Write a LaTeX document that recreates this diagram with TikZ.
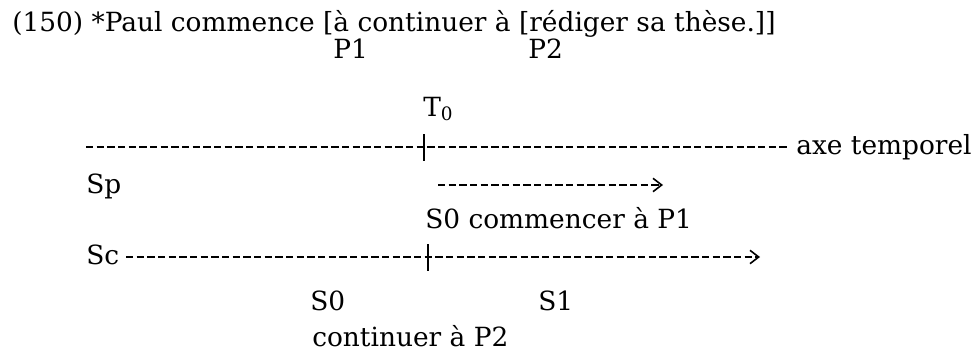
\documentclass[tikz,border=0pt]{standalone}
\usepackage{fontspec}
\setmainfont{DejaVu Serif}
\usetikzlibrary{arrows.meta,positioning}

\begin{document}
\begin{tikzpicture}[
    x=0.75pt, y=-0.75pt,
    lbl/.style={anchor=base west, inner sep=0pt, font=\fontsize{19.8pt}{24pt}\selectfont},
    dashline/.style={line width=1.2pt, dash pattern=on 5.6pt off 2.4pt},
    dasharrow/.style={dashline, -{Straight Barb[length=6.5pt,width=10pt]}},
    tickmark/.style={line width=1.2pt}
  ]
    \useasboundingbox (0,0) rectangle (978,351);

    % the sentence and its two predicates
    \node[lbl] (phrase) at (12,31) {(150) *Paul commence [à continuer à [rédiger sa thèse.]]};
    \node[lbl] (pone) at (333,58) {P1};
    \node[lbl] (ptwo) at (528,58) {P2};
    \node[lbl] (tzero) at (423,116) {T\textsubscript{0}};

    % time axis
    \coordinate (axeG) at (86,147);
    \coordinate (axeT) at (424,147);
    \coordinate (axeD) at (788,147);
    \node[lbl] (axe) at (796,154) {axe temporel};
    \draw[dashline] (axeG) -- (axeD);
    \draw[tickmark] (axeT) ++(0,-13) -- ++(0,27);

    % Sp
    \node[lbl] (sp) at (86,193) {Sp};
    \coordinate (spG) at (438,185);
    \coordinate (spD) at (663,185);
    \draw[dasharrow] (spG) -- (spD);
    \node[lbl] (szerop) at (425,228) {S0 commencer à P1};

    % Sc
    \node[lbl] (sc) at (86,264) {Sc};
    \coordinate (scG) at (126,257);
    \coordinate (scT) at (428,257);
    \coordinate (scD) at (760,257);
    \draw[dasharrow] (scG) -- (scD);
    \draw[tickmark] (scT) ++(0,-13) -- ++(0,27);
    \node[lbl] (szero) at (310,310) {S0};
    \node[lbl] (sone) at (538,310) {S1};
    \node[lbl] (cont) at (312,346) {continuer à P2};
\end{tikzpicture}
\end{document}
